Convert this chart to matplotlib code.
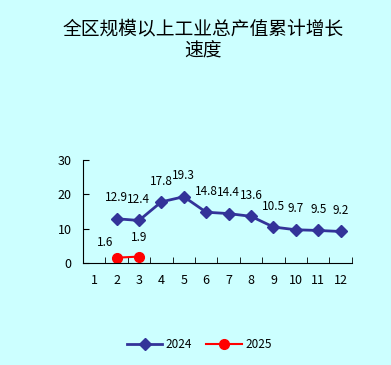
import matplotlib.pyplot as plt
import numpy as np

plt.rcParams['font.family'] = ['Noto Sans CJK SC', 'DejaVu Sans']

# Data
months = [1, 2, 3, 4, 5, 6, 7, 8, 9, 10, 11, 12]
x_2024 = [2, 3, 4, 5, 6, 7, 8, 9, 10, 11, 12]
v_2024 = [12.9, 12.4, 17.8, 19.3, 14.8, 14.4, 13.6, 10.5, 9.7, 9.5, 9.2]
x_2025 = [2, 3]
v_2025 = [1.6, 1.9]
title = "全区规模以上工业总产值累计增长\n速度"

# label offsets (points) for the 2025 labels
off_2025 = [(-8, 11), (0, 14)]

bg = '#CCFFFF'
fig = plt.figure(figsize=(3.91, 3.65), dpi=100, facecolor=bg)
ax = fig.add_axes([0.212, 0.279, 0.688, 0.283], facecolor=bg)

ax.plot(x_2024, v_2024, color='#333399', lw=2, marker='D', ms=6, label='2024')
ax.plot(x_2025, v_2025, color='#FF0000', lw=1.5, marker='o', ms=7, label='2025')

# Data labels
for x, v in zip(x_2024, v_2024):
    ax.annotate(f"{v}", (x, v), xytext=(0, 15), textcoords='offset points',
                ha='center', va='center', fontsize=8.5)
for (x, v), off in zip(zip(x_2025, v_2025), off_2025):
    ax.annotate(f"{v}", (x, v), xytext=off, textcoords='offset points',
                ha='center', va='center', fontsize=8.5)

ax.set_xlim(0.5, 12.5)
ax.set_ylim(0, 30)
ax.set_yticks([0, 10, 20, 30])
ax.set_xticks(months)
ax.set_xticks(np.arange(0.5, 13, 1), minor=True)
ax.tick_params(axis='x', which='major', length=0, pad=8, labelsize=9)
ax.tick_params(axis='x', which='minor', direction='in', length=4)
ax.tick_params(axis='y', direction='in', length=4, labelsize=9, pad=8)

for s in ['top', 'right']:
    ax.spines[s].set_visible(False)

fig.text(0.52, 0.89, title, ha='center', va='center', fontsize=13.5, linespacing=1.05)

fig.legend(loc='center', bbox_to_anchor=(0.51, 0.057), ncol=2, frameon=False,
           fontsize=8.5, handlelength=3, columnspacing=1.2, handletextpad=0.3)

plt.savefig('out.png', dpi=100, facecolor=bg)
